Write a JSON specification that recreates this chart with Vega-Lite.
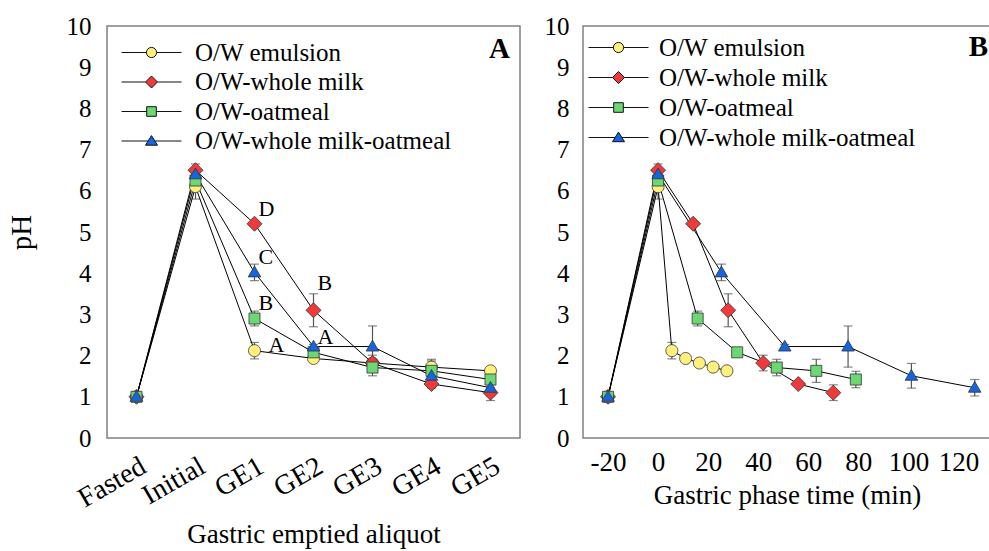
{
 "$schema": "https://vega.github.io/schema/vega-lite/v6.json",
 "padding": {"left": 6, "top": 13, "right": 0, "bottom": 0},
 "background": "white",
 "spacing": 21,
 "config": {
  "font": "Liberation Serif",
  "view": {"stroke": "#808080", "strokeWidth": 1.5},
  "axis": {"grid": false, "ticks": false, "tickSize": 0, "domain": false, "labelFont": "Liberation Serif", "labelFontSize": 25, "labelColor": "black", "titleFont": "Liberation Serif", "titleFontWeight": "normal", "titleColor": "black", "titleFontSize": 27},
  "legend": {"labelFont": "Liberation Serif", "labelFontSize": 25, "labelColor": "black", "labelLimit": 400},
  "title": {"font": "Liberation Serif", "fontSize": 29, "fontWeight": "bold", "color": "black"}
 },
 "datasets": {
  "A": [
   {"cat": "Fasted", "series": "O/W emulsion", "pH": 1.0},
   {"cat": "Initial", "series": "O/W emulsion", "pH": 6.1, "lo": 5.8, "hi": 6.4},
   {"cat": "GE1", "series": "O/W emulsion", "pH": 2.12, "lo": 1.92, "hi": 2.32},
   {"cat": "GE2", "series": "O/W emulsion", "pH": 1.93},
   {"cat": "GE3", "series": "O/W emulsion", "pH": 1.82},
   {"cat": "GE4", "series": "O/W emulsion", "pH": 1.72, "lo": 1.57, "hi": 1.87},
   {"cat": "GE5", "series": "O/W emulsion", "pH": 1.63, "lo": 1.53, "hi": 1.73},
   {"cat": "Fasted", "series": "O/W-whole milk", "pH": 1.0},
   {"cat": "Initial", "series": "O/W-whole milk", "pH": 6.5, "lo": 6.35, "hi": 6.65},
   {"cat": "GE1", "series": "O/W-whole milk", "pH": 5.2},
   {"cat": "GE2", "series": "O/W-whole milk", "pH": 3.1, "lo": 2.7, "hi": 3.5},
   {"cat": "GE3", "series": "O/W-whole milk", "pH": 1.82, "lo": 1.63, "hi": 2.01},
   {"cat": "GE4", "series": "O/W-whole milk", "pH": 1.31, "lo": 1.26, "hi": 1.36},
   {"cat": "GE5", "series": "O/W-whole milk", "pH": 1.1, "lo": 0.91, "hi": 1.29},
   {"cat": "Fasted", "series": "O/W-oatmeal", "pH": 1.0},
   {"cat": "Initial", "series": "O/W-oatmeal", "pH": 6.25, "lo": 6.1, "hi": 6.4},
   {"cat": "GE1", "series": "O/W-oatmeal", "pH": 2.9, "lo": 2.72, "hi": 3.08},
   {"cat": "GE2", "series": "O/W-oatmeal", "pH": 2.08},
   {"cat": "GE3", "series": "O/W-oatmeal", "pH": 1.71, "lo": 1.51, "hi": 1.91},
   {"cat": "GE4", "series": "O/W-oatmeal", "pH": 1.63, "lo": 1.35, "hi": 1.91},
   {"cat": "GE5", "series": "O/W-oatmeal", "pH": 1.42, "lo": 1.22, "hi": 1.62},
   {"cat": "Fasted", "series": "O/W-whole milk-oatmeal", "pH": 1.0},
   {"cat": "Initial", "series": "O/W-whole milk-oatmeal", "pH": 6.4, "lo": 6.3, "hi": 6.5},
   {"cat": "GE1", "series": "O/W-whole milk-oatmeal", "pH": 4.02, "lo": 3.82, "hi": 4.22},
   {"cat": "GE2", "series": "O/W-whole milk-oatmeal", "pH": 2.22, "lo": 2.17, "hi": 2.27},
   {"cat": "GE3", "series": "O/W-whole milk-oatmeal", "pH": 2.22, "lo": 1.72, "hi": 2.72},
   {"cat": "GE4", "series": "O/W-whole milk-oatmeal", "pH": 1.51, "lo": 1.21, "hi": 1.81},
   {"cat": "GE5", "series": "O/W-whole milk-oatmeal", "pH": 1.22, "lo": 1.02, "hi": 1.42}
  ],
  "Aletters": [
   {"cat": "GE1", "pH": 5.56, "label": "D"},
   {"cat": "GE1", "pH": 4.39, "label": "C"},
   {"cat": "GE1", "pH": 3.28, "label": "B"},
   {"cat": "GE1", "pH": 2.26, "label": "A"},
   {"cat": "GE2", "pH": 3.76, "label": "B"},
   {"cat": "GE2", "pH": 2.45, "label": "A"}
  ],
  "B": [
   {"t": -20, "series": "O/W emulsion", "pH": 1.0},
   {"t": 0, "series": "O/W emulsion", "pH": 6.1, "lo": 5.8, "hi": 6.4},
   {"t": 5.5, "series": "O/W emulsion", "pH": 2.12, "lo": 1.92, "hi": 2.32},
   {"t": 11, "series": "O/W emulsion", "pH": 1.93},
   {"t": 16.5, "series": "O/W emulsion", "pH": 1.82},
   {"t": 22, "series": "O/W emulsion", "pH": 1.72},
   {"t": 27.5, "series": "O/W emulsion", "pH": 1.63, "lo": 1.53, "hi": 1.73},
   {"t": -20, "series": "O/W-whole milk", "pH": 1.0},
   {"t": 0, "series": "O/W-whole milk", "pH": 6.5, "lo": 6.35, "hi": 6.65},
   {"t": 14, "series": "O/W-whole milk", "pH": 5.2},
   {"t": 28, "series": "O/W-whole milk", "pH": 3.1, "lo": 2.7, "hi": 3.5},
   {"t": 42, "series": "O/W-whole milk", "pH": 1.82, "lo": 1.63, "hi": 2.01},
   {"t": 56, "series": "O/W-whole milk", "pH": 1.31, "lo": 1.26, "hi": 1.36},
   {"t": 70, "series": "O/W-whole milk", "pH": 1.1, "lo": 0.91, "hi": 1.29},
   {"t": -20, "series": "O/W-oatmeal", "pH": 1.0},
   {"t": 0, "series": "O/W-oatmeal", "pH": 6.25, "lo": 6.1, "hi": 6.4},
   {"t": 15.8, "series": "O/W-oatmeal", "pH": 2.9, "lo": 2.72, "hi": 3.08},
   {"t": 31.6, "series": "O/W-oatmeal", "pH": 2.08},
   {"t": 47.4, "series": "O/W-oatmeal", "pH": 1.71, "lo": 1.51, "hi": 1.91},
   {"t": 63.2, "series": "O/W-oatmeal", "pH": 1.63, "lo": 1.35, "hi": 1.91},
   {"t": 79, "series": "O/W-oatmeal", "pH": 1.42, "lo": 1.22, "hi": 1.62},
   {"t": -20, "series": "O/W-whole milk-oatmeal", "pH": 1.0},
   {"t": 0, "series": "O/W-whole milk-oatmeal", "pH": 6.4, "lo": 6.3, "hi": 6.5},
   {"t": 25.3, "series": "O/W-whole milk-oatmeal", "pH": 4.02, "lo": 3.82, "hi": 4.22},
   {"t": 50.6, "series": "O/W-whole milk-oatmeal", "pH": 2.22, "lo": 2.17, "hi": 2.27},
   {"t": 75.9, "series": "O/W-whole milk-oatmeal", "pH": 2.22, "lo": 1.72, "hi": 2.72},
   {"t": 101.2, "series": "O/W-whole milk-oatmeal", "pH": 1.51, "lo": 1.21, "hi": 1.81},
   {"t": 126.5, "series": "O/W-whole milk-oatmeal", "pH": 1.22, "lo": 1.02, "hi": 1.42}
  ]
 },
 "hconcat": [
  {
   "width": 413, "height": 412,
   "data": {"name": "A"},
   "title": {"text": "A", "anchor": "end", "frame": "group", "orient": "top", "offset": 0, "dx": -10, "dy": 50},
   "resolve": {"scale": {"shape": "independent", "fill": "independent", "stroke": "independent"}},
   "layer": [
    {
     "transform": [{"filter": "isValid(datum.lo)"}],
     "mark": {"type": "errorbar", "ticks": {"size": 9}, "color": "#555", "thickness": 1.2},
     "encoding": {
      "x": {"field": "cat", "type": "ordinal", "scale": {"type": "point", "padding": 0.5, "domain": ["Fasted", "Initial", "GE1", "GE2", "GE3", "GE4", "GE5"]}, "axis": {"title": "Gastric emptied aliquot", "labelAngle": -30, "labelFont": "Liberation Serif", "labelFontSize": 28, "labelPadding": 14, "titlePadding": 9, "titleFont": "Liberation Serif"}},
      "y": {"field": "lo", "type": "quantitative", "scale": {"domain": [0, 10]}, "axis": {"title": "pH", "values": [0,1,2,3,4,5,6,7,8,9,10], "labelFont": "Liberation Serif", "labelPadding": 16, "titleFont": "Liberation Serif", "titleFontSize": 29, "titlePadding": 30}},
      "y2": {"field": "hi"}
     }
    },
    {
     "mark": {"type": "line", "color": "black", "strokeWidth": 1},
     "encoding": {
      "x": {"field": "cat", "type": "ordinal", "scale": {"type": "point", "padding": 0.5, "domain": ["Fasted", "Initial", "GE1", "GE2", "GE3", "GE4", "GE5"]}, "axis": {"title": "Gastric emptied aliquot", "labelAngle": -30, "labelFont": "Liberation Serif", "labelFontSize": 28, "labelPadding": 14, "titlePadding": 9, "titleFont": "Liberation Serif"}},
      "y": {"field": "pH", "type": "quantitative", "scale": {"domain": [0, 10]}, "axis": {"title": "pH", "values": [0,1,2,3,4,5,6,7,8,9,10], "labelFont": "Liberation Serif", "labelPadding": 16, "titleFont": "Liberation Serif", "titleFontSize": 29, "titlePadding": 30}},
      "detail": {"field": "series"}
     }
    },
    {
     "mark": {"type": "point", "filled": true, "size": 144, "stroke": "#333", "strokeWidth": 0.8, "opacity": 1},
     "encoding": {
      "x": {"field": "cat", "type": "ordinal"},
      "y": {"field": "pH", "type": "quantitative"},
      "shape": {"field": "series", "scale": {"domain": ["O/W emulsion", "O/W-whole milk", "O/W-oatmeal", "O/W-whole milk-oatmeal"], "range": ["M1,0A1,1,0,1,1,-1,0A1,1,0,1,1,1,0Z", "M-1.25,0L0,-1.25L1.25,0L0,1.25Z", "M-0.92,-0.92H0.92V0.92H-0.92Z", "M0,-1.05L1.05,0.75L-1.05,0.75Z"]}, "legend": null},
      "fill": {"field": "series", "scale": {"domain": ["O/W emulsion", "O/W-whole milk", "O/W-oatmeal", "O/W-whole milk-oatmeal"], "range": ["#FFEF7C", "#F03A3A", "#6CD873", "#1565E0"]}, "legend": null}
     }
    },
    {
     "mark": {"type": "point", "filled": true, "size": 144, "strokeWidth": 1, "opacity": 0},
     "encoding": {
      "x": {"field": "cat", "type": "ordinal"},
      "y": {"field": "pH", "type": "quantitative"},
      "shape": {"field": "series", "scale": {"domain": ["O/W emulsion", "O/W-whole milk", "O/W-oatmeal", "O/W-whole milk-oatmeal"], "range": ["M-5,0H-0.85M0.85,0H5M0.85,0A0.85,0.85,0,1,1,-0.85,0A0.85,0.85,0,1,1,0.85,0Z", "M-5,0H-1M1,0H5M-1,0L0,-1L1,0L0,1Z", "M-5,0H-0.8M0.8,0H5M-0.8,-0.8H0.8V0.8H-0.8Z", "M-5,0H-0.56M0.56,0H5M0,-0.9L1,0.7L-1,0.7Z"]}, "legend": {"title": null, "orient": "none", "legendX": 32, "legendY": 14, "symbolOpacity": 1, "symbolStrokeWidth": 1, "symbolSize": 144, "labelOffset": 31, "rowPadding": 3.5, "labelFont": "Liberation Serif", "labelLimit": 400}},
      "fill": {"field": "series", "scale": {"domain": ["O/W emulsion", "O/W-whole milk", "O/W-oatmeal", "O/W-whole milk-oatmeal"], "range": ["#FFEF7C", "#F03A3A", "#6CD873", "#1565E0"]}, "legend": {"title": null, "orient": "none", "legendX": 32, "legendY": 14, "symbolOpacity": 1, "symbolStrokeWidth": 1, "symbolSize": 144, "labelOffset": 31, "rowPadding": 3.5, "labelFont": "Liberation Serif", "labelLimit": 400}},
      "stroke": {"field": "series", "scale": {"domain": ["O/W emulsion", "O/W-whole milk", "O/W-oatmeal", "O/W-whole milk-oatmeal"], "range": ["#111", "#111", "#111", "#111"]}, "legend": {"title": null, "orient": "none", "legendX": 32, "legendY": 14, "symbolOpacity": 1, "symbolStrokeWidth": 1, "symbolSize": 144, "labelOffset": 31, "rowPadding": 3.5, "labelFont": "Liberation Serif", "labelLimit": 400}}
     }
    },
    {
     "data": {"name": "Aletters"},
     "transform": [{"filter": "!(datum.label == 'A' && datum.cat == 'GE1')"}],
     "mark": {"type": "text", "align": "left", "baseline": "middle", "fontSize": 22, "dx": 4, "font": "Liberation Serif", "color": "black"},
     "encoding": {
      "x": {"field": "cat", "type": "ordinal"},
      "y": {"field": "pH", "type": "quantitative"},
      "text": {"field": "label"}
     }
    },
    {
     "data": {"name": "Aletters"},
     "transform": [{"filter": "datum.label == 'A' && datum.cat == 'GE1'"}],
     "mark": {"type": "text", "align": "left", "baseline": "middle", "fontSize": 22, "dx": 14, "font": "Liberation Serif", "color": "black"},
     "encoding": {
      "x": {"field": "cat", "type": "ordinal"},
      "y": {"field": "pH", "type": "quantitative"},
      "text": {"field": "label"}
     }
    }
   ]
  },
  {
   "width": 408, "height": 412,
   "data": {"name": "B"},
   "title": {"text": "B", "anchor": "end", "frame": "group", "orient": "top", "offset": 0, "dx": -3, "dy": 48},
   "resolve": {"scale": {"shape": "independent", "fill": "independent", "stroke": "independent"}},
   "layer": [
    {
     "transform": [{"filter": "isValid(datum.lo)"}],
     "mark": {"type": "errorbar", "ticks": {"size": 9}, "color": "#555", "thickness": 1.2},
     "encoding": {
      "x": {"field": "t", "type": "quantitative", "scale": {"domain": [-30, 133], "nice": false, "zero": false}, "axis": {"title": "Gastric phase time (min)", "values": [-20,0,20,40,60,80,100,120], "labelExpr": "datum.value", "labelFont": "Liberation Serif", "labelFontSize": 27, "labelPadding": 11, "titlePadding": 7, "titleFont": "Liberation Serif", "labelFlush": false, "labelOverlap": false}},
      "y": {"field": "lo", "type": "quantitative", "scale": {"domain": [0, 10]}, "axis": {"title": null, "values": [0,1,2,3,4,5,6,7,8,9,10], "labelFont": "Liberation Serif", "labelPadding": 14}},
      "y2": {"field": "hi"}
     }
    },
    {
     "mark": {"type": "line", "color": "black", "strokeWidth": 1},
     "encoding": {
      "x": {"field": "t", "type": "quantitative", "scale": {"domain": [-30, 133], "nice": false, "zero": false}, "axis": {"title": "Gastric phase time (min)", "values": [-20,0,20,40,60,80,100,120], "labelExpr": "datum.value", "labelFont": "Liberation Serif", "labelFontSize": 27, "labelPadding": 11, "titlePadding": 7, "titleFont": "Liberation Serif", "labelFlush": false, "labelOverlap": false}},
      "y": {"field": "pH", "type": "quantitative", "scale": {"domain": [0, 10]}, "axis": {"title": null, "values": [0,1,2,3,4,5,6,7,8,9,10], "labelFont": "Liberation Serif", "labelPadding": 14}},
      "detail": {"field": "series"}
     }
    },
    {
     "mark": {"type": "point", "filled": true, "size": 144, "stroke": "#333", "strokeWidth": 0.8, "opacity": 1},
     "encoding": {
      "x": {"field": "t", "type": "quantitative"},
      "y": {"field": "pH", "type": "quantitative"},
      "shape": {"field": "series", "scale": {"domain": ["O/W emulsion", "O/W-whole milk", "O/W-oatmeal", "O/W-whole milk-oatmeal"], "range": ["M1,0A1,1,0,1,1,-1,0A1,1,0,1,1,1,0Z", "M-1.25,0L0,-1.25L1.25,0L0,1.25Z", "M-0.92,-0.92H0.92V0.92H-0.92Z", "M0,-1.05L1.05,0.75L-1.05,0.75Z"]}, "legend": null},
      "fill": {"field": "series", "scale": {"domain": ["O/W emulsion", "O/W-whole milk", "O/W-oatmeal", "O/W-whole milk-oatmeal"], "range": ["#FFEF7C", "#F03A3A", "#6CD873", "#1565E0"]}, "legend": null}
     }
    },
    {
     "mark": {"type": "point", "filled": true, "size": 144, "strokeWidth": 1, "opacity": 0},
     "encoding": {
      "x": {"field": "t", "type": "quantitative"},
      "y": {"field": "pH", "type": "quantitative"},
      "shape": {"field": "series", "scale": {"domain": ["O/W emulsion", "O/W-whole milk", "O/W-oatmeal", "O/W-whole milk-oatmeal"], "range": ["M-5,0H-0.85M0.85,0H5M0.85,0A0.85,0.85,0,1,1,-0.85,0A0.85,0.85,0,1,1,0.85,0Z", "M-5,0H-1M1,0H5M-1,0L0,-1L1,0L0,1Z", "M-5,0H-0.8M0.8,0H5M-0.8,-0.8H0.8V0.8H-0.8Z", "M-5,0H-0.56M0.56,0H5M0,-0.9L1,0.7L-1,0.7Z"]}, "legend": {"title": null, "orient": "none", "legendX": 23, "legendY": 9, "symbolOpacity": 1, "symbolStrokeWidth": 1, "symbolSize": 144, "labelOffset": 28, "rowPadding": 4, "labelFont": "Liberation Serif", "labelLimit": 400}},
      "fill": {"field": "series", "scale": {"domain": ["O/W emulsion", "O/W-whole milk", "O/W-oatmeal", "O/W-whole milk-oatmeal"], "range": ["#FFEF7C", "#F03A3A", "#6CD873", "#1565E0"]}, "legend": {"title": null, "orient": "none", "legendX": 23, "legendY": 9, "symbolOpacity": 1, "symbolStrokeWidth": 1, "symbolSize": 144, "labelOffset": 28, "rowPadding": 4, "labelFont": "Liberation Serif", "labelLimit": 400}},
      "stroke": {"field": "series", "scale": {"domain": ["O/W emulsion", "O/W-whole milk", "O/W-oatmeal", "O/W-whole milk-oatmeal"], "range": ["#111", "#111", "#111", "#111"]}, "legend": {"title": null, "orient": "none", "legendX": 23, "legendY": 9, "symbolOpacity": 1, "symbolStrokeWidth": 1, "symbolSize": 144, "labelOffset": 28, "rowPadding": 4, "labelFont": "Liberation Serif", "labelLimit": 400}}
     }
    }
   ]
  }
 ]
}
